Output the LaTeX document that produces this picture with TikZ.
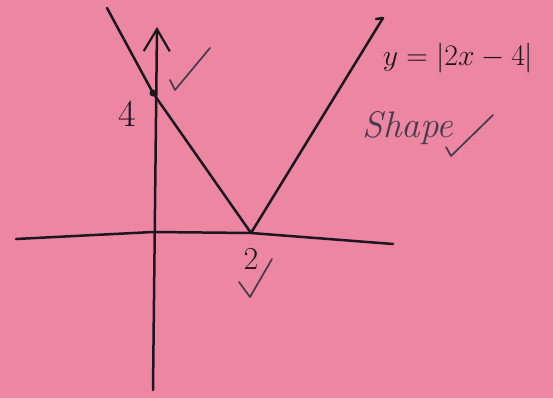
\documentclass[tikz,border=0pt]{standalone}
\usepackage{amsmath}
\usepackage{tikz}
\usetikzlibrary{arrows.meta, positioning}
\definecolor{paper}{RGB}{236,134,163}
\definecolor{ink}{RGB}{28,22,30}
\definecolor{tick}{RGB}{70,60,75}

\begin{document}
\begin{tikzpicture}[x=1pt, y=-1pt,
  pen/.style={draw=ink, line width=2.5pt, line cap=round, line join=round},
  checkmark/.style={draw=tick, line width=1.7pt, line cap=round, line join=round},
  hand/.style={text=ink, inner sep=0pt}]
  % papier
  \fill[paper] (0,0) rectangle (553,398);
  \useasboundingbox (0,0) rectangle (553,398);

  % Achsen
  \coordinate (xL) at (16,239);
  \coordinate (O) at (153,232);
  \coordinate (xR) at (393,244);
  \coordinate (yB) at (153,390);
  \coordinate (yT) at (157,27);
  \draw[pen] (xL) -- (O) -- (251,233) -- (xR);
  \draw[pen, -{Straight Barb[length=22pt, width=26pt, line width=2.2pt]}] (yB) -- (yT);

  % Graph von y=|2x-4|
  \coordinate (A) at (107,8);
  \coordinate (P) at (153,93);
  \coordinate (V) at (251,233);
  \coordinate (B) at (383,18);
  \draw[pen] (A) -- (P) -- (V) -- (B) -- ++(-7,1);
  \fill[ink] (P) circle (3.5);

  % Beschriftungen
  \node[hand, font=\fontsize{38}{38}\selectfont] (four) at (127,114) {4};
  \node[hand, font=\fontsize{32}{32}\selectfont] (two) at (251,259) {2};
  \node[hand, font=\fontsize{24.88}{30}\selectfont, scale=1.2] (eqn) at (458,58) {$y=|2x-4|$};
  \node[hand, text=tick, font=\fontsize{37}{37}\selectfont\itshape] (shape) at (408,128) {Shape};

  % Haken
  \draw[checkmark] (170,80) -- (175,90) -- (210,48);
  \draw[checkmark] (239,282) -- (250,297) -- (272,259);
  \draw[checkmark] (446,147) -- (451,156) -- (493,115);
\end{tikzpicture}
\end{document}
